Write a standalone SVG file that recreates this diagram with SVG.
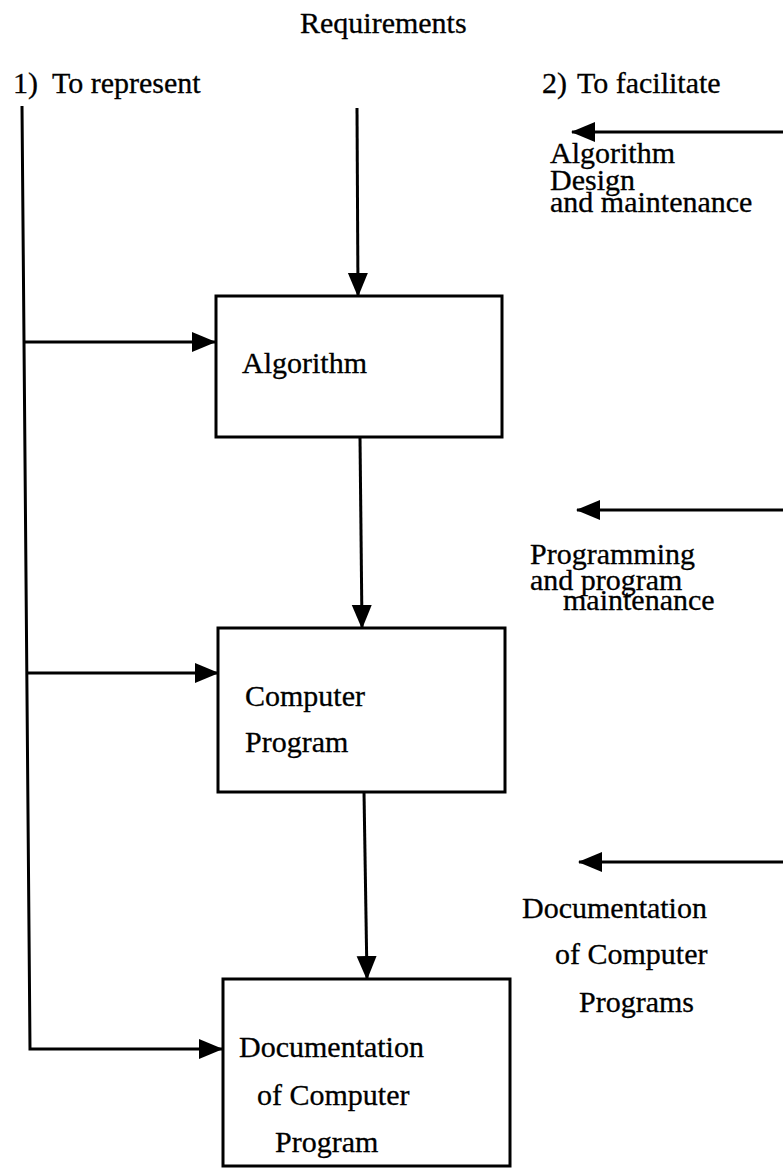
<svg xmlns="http://www.w3.org/2000/svg" width="783" height="1168" viewBox="0 0 783 1168">
<style>
  .t { font-family: "Liberation Serif", "Times New Roman", serif; font-size: 30px; fill: #000; stroke: #000; stroke-width: 0.3; }
  .box { fill: #fff; stroke: #000; stroke-width: 3; }
  .ar { fill: none; stroke: #000; stroke-width: 3; marker-end: url(#ah); }
</style>
<defs>
  <marker id="ah" markerUnits="userSpaceOnUse" markerWidth="24" markerHeight="22" viewBox="0 0 24 22" refX="23" refY="11" orient="auto">
    <path d="M0,1 L24,11 L0,21 z" fill="#000"/>
  </marker>
</defs>
<rect width="783" height="1168" fill="#fff"/>

<g id="headings">
  <text class="t" x="300" y="33">Requirements</text>
  <text class="t" x="13" y="93">1)</text>
  <text class="t" x="52" y="93">To represent</text>
  <text class="t" x="542" y="93">2)</text>
  <text class="t" x="577" y="93">To facilitate</text>
</g>

<g id="connectors">
  <polyline class="ar" points="22,106 30,1049 222,1049"/>
  <line class="ar" x1="25" y1="342" x2="215" y2="342"/>
  <line class="ar" x1="27" y1="673" x2="218" y2="673"/>
  <line class="ar" x1="357" y1="108" x2="358" y2="296"/>
  <line class="ar" x1="360" y1="437" x2="362" y2="628"/>
  <line class="ar" x1="364" y1="792" x2="367" y2="979"/>
  <line class="ar" x1="783" y1="132" x2="572" y2="132"/>
  <line class="ar" x1="783" y1="510" x2="577" y2="510"/>
  <line class="ar" x1="783" y1="862" x2="579" y2="862"/>
</g>

<g id="node-algorithm">
  <rect class="box" x="216" y="296" width="286" height="141"/>
  <text class="t" x="242" y="373">Algorithm</text>
</g>

<g id="node-program">
  <rect class="box" x="218" y="628" width="287" height="164"/>
  <text class="t" x="245" y="706">Computer</text>
  <text class="t" x="245" y="752">Program</text>
</g>

<g id="node-documentation">
  <rect class="box" x="223" y="979" width="287" height="187"/>
  <text class="t" x="239" y="1057">Documentation</text>
  <text class="t" x="257" y="1105">of Computer</text>
  <text class="t" x="275" y="1152">Program</text>
</g>

<g id="label-design">
  <text class="t" x="550" y="163">Algorithm</text>
  <text class="t" x="550" y="190">Design</text>
  <text class="t" x="550" y="212">and maintenance</text>
</g>

<g id="label-programming">
  <text class="t" x="530" y="564">Programming</text>
  <text class="t" x="530" y="590">and program</text>
  <text class="t" x="563" y="610">maintenance</text>
</g>

<g id="label-documentation">
  <text class="t" x="522" y="918">Documentation</text>
  <text class="t" x="555" y="964">of Computer</text>
  <text class="t" x="579" y="1012">Programs</text>
</g>
</svg>
